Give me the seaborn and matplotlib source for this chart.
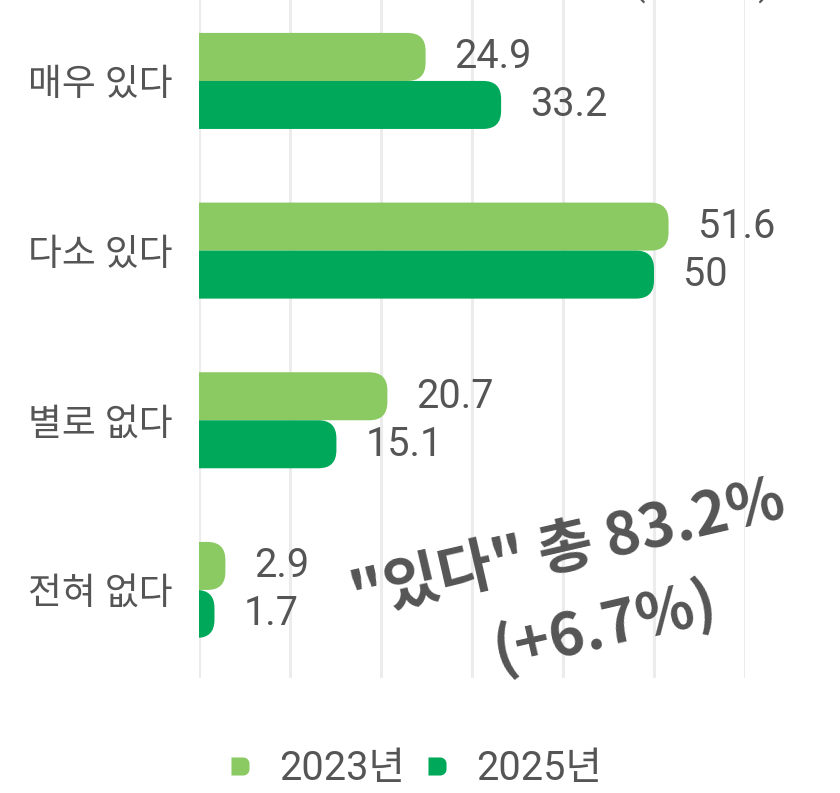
import numpy as np
import pandas as pd
import matplotlib
matplotlib.use('Agg')
import matplotlib.pyplot as plt
import matplotlib.path as mpath
from matplotlib.patches import FancyBboxPatch
from matplotlib.lines import Line2D
import seaborn as sns

categories = ["매우 있다", "다소 있다", "별로 없다", "전혀 없다"]
years      = ["2023년", "2025년"]
vals_2023  = [24.9, 51.6, 20.7, 2.9]
vals_2025  = [33.2, 50.0, 15.1, 1.7]
colors     = ["#8bca63", "#00a95a"]
note_main  = "\"있다\" 총 83.2%"
note_sub   = "(+6.7%)"
unit_text  = "(단위: %)"

TEXT = "#555555"
W, H = 840, 793
FS = 26.5      # category labels
FS_NUM = 28.5  # value labels / legend

sns.set_style("white")
plt.rcParams['font.family'] = ['Roboto', 'Noto Sans CJK KR', 'DejaVu Sans']

df = pd.DataFrame({
    "category": categories * 2,
    "year":     [years[0]] * 4 + [years[1]] * 4,
    "value":    vals_2023 + vals_2025,
})

fig = plt.figure(figsize=(W / 100, H / 100), dpi=100)
ax = fig.add_axes([199 / W, 1 - 678 / H, 546 / W, 678 / H])

sns.barplot(data=df, y="category", x="value", hue="year", orient="h",
            order=categories, hue_order=years, palette=colors,
            width=0.566, legend=False, ax=ax, saturation=1)

xmax = 60
ylo, yhi = -0.477, 3.519
ax.set_xlim(0, xmax)
ax.set_ylim(yhi, ylo)
ax.set_xticks(range(0, 61, 10))
ax.set_xticklabels([])
ax.xaxis.grid(True, color="#ececec", lw=2.2)
ax.yaxis.grid(False)
ax.set_axisbelow(True)
for s in ax.spines.values():
    s.set_visible(False)
ax.set_xlabel("")
ax.set_ylabel("")
ax.tick_params(axis="y", length=0, pad=19, labelsize=FS, labelcolor=TEXT)
ax.tick_params(axis="x", length=0)

# rounded right ends
px_x = 546 / xmax
px_y = 678 / (yhi - ylo)
rx = 18 / px_x
asp = px_x / px_y
for p in list(ax.patches):
    x0, y0, w, h = p.get_x(), p.get_y(), p.get_width(), p.get_height()
    fc = p.get_facecolor()
    p.remove()
    fb = FancyBboxPatch((x0 - 3 * rx, y0), w + 3 * rx, h,
                        boxstyle=f"round,pad=0,rounding_size={rx}",
                        mutation_aspect=asp, fc=fc, ec="none", zorder=2)
    ax.add_patch(fb)
    ax.text(w + 29 / px_x, y0 + h / 2, f"{w:g}", va="center", ha="left",
            fontsize=FS_NUM, color=TEXT, clip_on=False)

# legend with half-rounded markers
r = 0.7
t1 = np.linspace(-np.pi / 2, 0, 12)
t2 = np.linspace(0, np.pi / 2, 12)
verts = [(-1, -1), (1 - r, -1)]
verts += [(1 - r + r * np.cos(t), -1 + r + r * np.sin(t)) for t in t1]
verts += [(1 - r + r * np.cos(t), 1 - r + r * np.sin(t)) for t in t2]
verts += [(-1, 1), (-1, -1)]
marker = mpath.Path(verts)
handles = [Line2D([], [], ls="none", marker=marker, markersize=13,
                  markerfacecolor=c, markeredgecolor="none") for c in colors]
fig.legend(handles, years, loc="center", bbox_to_anchor=(416 / W, 1 - 768 / H),
           ncol=2, frameon=False, fontsize=FS_NUM, labelcolor=TEXT,
           handlelength=0.5, handletextpad=0.75, columnspacing=0.55)

# rotated annotation
note_font = ['Noto Sans CJK KR', 'DejaVu Sans']
fig.text(568 / W, 1 - 550 / H, note_main, rotation=13, rotation_mode="anchor",
         ha="center", va="center", fontsize=43, fontweight="heavy",
         color=TEXT, family=note_font)
fig.text(605 / W, 1 - 627 / H, note_sub, rotation=13, rotation_mode="anchor",
         ha="center", va="center", fontsize=43, fontweight="heavy",
         color=TEXT, family=note_font)

# unit note, cut by the top edge as in the source image
fig.text(702 / W, 1 + 6 / H, unit_text, ha="center", va="baseline",
         fontsize=FS, color=TEXT)

fig.savefig("out.png", dpi=100)
